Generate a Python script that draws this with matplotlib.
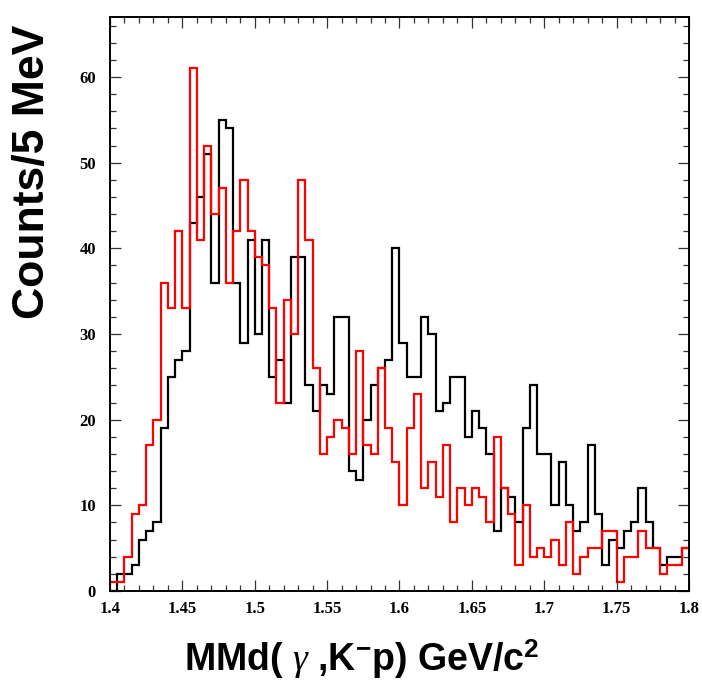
import numpy as np
import matplotlib
matplotlib.use("Agg")
import matplotlib.pyplot as plt
from matplotlib.ticker import MultipleLocator, FormatStrFormatter

# histogram: 5 MeV bins from 1.4 to 1.8 GeV
x_min = 1.4
x_max = 1.8
bin_width = 0.005

# black histogram (data)
black_counts = [0, 2, 2, 3, 6, 7, 8, 19, 25, 27,
                28, 43, 46, 51, 36, 55, 54, 36, 29, 41,
                30, 41, 25, 27, 22, 39, 39, 24, 21, 24,
                23, 32, 32, 14, 13, 20, 24, 26, 27, 40,
                29, 25, 25, 32, 30, 21, 22, 25, 25, 18,
                21, 19, 16, 7, 12, 11, 8, 19, 24, 16,
                16, 10, 15, 10, 7, 8, 17, 9, 3, 6,
                5, 7, 8, 12, 8, 5, 3, 4, 4, 5]

# red histogram
red_counts = [1, 1, 4, 9, 10, 17, 20, 36, 33, 42,
              33, 61, 41, 52, 44, 47, 36, 42, 48, 42,
              39, 38, 33, 22, 34, 30, 48, 41, 26, 16,
              18, 20, 19, 16, 28, 17, 16, 26, 19, 15,
              10, 19, 23, 12, 15, 11, 17, 8, 12, 10,
              12, 11, 8, 18, 12, 9, 3, 10, 4, 5,
              4, 6, 3, 8, 2, 4, 5, 5, 7, 7,
              1, 4, 4, 7, 5, 5, 2, 3, 3, 5]

n_bins = len(black_counts)
edges = x_min + bin_width * np.arange(n_bins + 1)

plt.rcParams["mathtext.fontset"] = "custom"
plt.rcParams["mathtext.rm"] = "Liberation Sans:bold"
plt.rcParams["mathtext.bf"] = "Liberation Sans:bold"
plt.rcParams["mathtext.it"] = "Liberation Serif:italic"

fig = plt.figure(figsize=(7.02, 6.84), dpi=100)
ax = fig.add_axes([110 / 702, 1 - 591 / 684, 579 / 702, 574 / 684])

ax.stairs(black_counts, edges, baseline=None, color="black", linewidth=1.6)
ax.stairs(red_counts, edges, baseline=None, color="red", linewidth=1.6)

ax.set_xlim(x_min, x_max)
ax.set_ylim(0, 67.0)

# ROOT-like ticks
ax.xaxis.set_major_locator(MultipleLocator(0.05))
ax.xaxis.set_minor_locator(MultipleLocator(0.01))
ax.yaxis.set_major_locator(MultipleLocator(10))
ax.yaxis.set_minor_locator(MultipleLocator(2))
ax.xaxis.set_major_formatter(FormatStrFormatter("%g"))
ax.tick_params(which="both", direction="in", top=True, right=True, width=0.9, color="#333333")
ax.tick_params(which="major", length=8)
ax.tick_params(which="minor", length=4)
ax.tick_params(axis="x", pad=7)
ax.tick_params(axis="y", pad=10)
for lab in ax.get_xticklabels() + ax.get_yticklabels():
    lab.set_fontfamily("Liberation Serif")
    lab.set_fontweight("bold")
    lab.set_fontsize(12)
for sp in ax.spines.values():
    sp.set_linewidth(1.4)

# axis titles
fig.text(33 / 702, 1 - 25 / 684, "Counts/5 MeV", rotation=90, ha="center", va="top",
         fontsize=32, fontweight="bold", family=["Liberation Sans", "DejaVu Sans"])
fig.text(362 / 702, 1 - 671 / 684, r"MMd( $\mathit{\gamma}$ ,K$^{\mathbf{-}}$p) GeV/c$^{\mathbf{2}}$",
         ha="center", va="baseline", fontsize=27, fontweight="bold",
         family=["Liberation Sans", "DejaVu Sans"])

fig.savefig("out.png", dpi=100)
